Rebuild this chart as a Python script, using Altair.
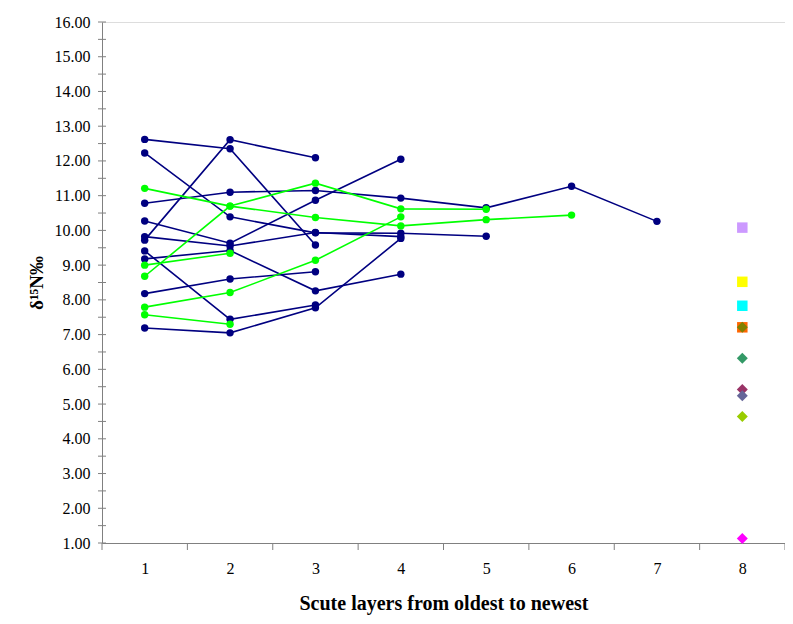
import altair as alt
import pandas as pd

# Scute layer positions
layers = [1, 2, 3, 4, 5, 6, 7, 8]

# Navy series (delta 15N by scute layer, oldest to newest)
navy_a = [12.62, 12.35, 9.58]
navy_b = [9.72, 12.61, 12.09]
navy_c = [10.78, 11.10, 11.15, 10.93, 10.65, 11.27, 10.26]
navy_d = [12.23, 10.39, 9.93, 9.92, 9.83]
navy_e = [10.27, 9.63, 10.87, 12.05]
navy_f = [9.82, 9.55, 9.94, 9.82]
navy_g = [9.18, 9.42, 8.26, 8.74]
navy_h = [8.18, 8.60, 8.81]
navy_i = [9.41, 7.44, 7.85]
navy_j = [7.19, 7.05, 7.77, 9.77]

# Green series
green_a = [11.21, 10.70, 10.37, 10.13, 10.31, 10.44]
green_b = [8.68, 10.70, 11.36, 10.62, 10.61]
green_c = [7.79, 8.21, 9.14, 10.39]
green_d = [9.00, 9.34]
green_e = [7.57, 7.30]

# Single markers at layer 8
square_values = [10.08, 8.52, 7.83, 7.21]
square_colors = ["#CC99FF", "#FFFF00", "#00FFFF", "#FF6600"]
diamond_values = [7.21, 6.32, 5.42, 5.24, 4.64, 1.13]
diamond_colors = ["#808000", "#339966", "#993366", "#666699", "#99CC00", "#FF00FF"]

# Axis ticks
y_tick_values = [v / 2 for v in range(2, 33)]
x_tick_values = [v + 0.5 for v in range(0, 9)]

navy_list = [navy_a, navy_b, navy_c, navy_d, navy_e, navy_f, navy_g, navy_h, navy_i, navy_j]
green_list = [green_a, green_b, green_c, green_d, green_e]


def to_df(series_list, prefix):
    rows = []
    for k, s in enumerate(series_list):
        for i, v in enumerate(s):
            rows.append({"x": layers[i], "y": v, "s": f"{prefix}{k}"})
    return pd.DataFrame(rows)


navy_df = to_df(navy_list, "n")
green_df = to_df(green_list, "g")
sq_df = pd.DataFrame({"x": [8] * len(square_values), "y": square_values, "c": square_colors})
dm_df = pd.DataFrame({"x": [8] * len(diamond_values), "y": diamond_values, "c": diamond_colors})
yt_df = pd.DataFrame({"y": y_tick_values})
xt_df = pd.DataFrame({"x": x_tick_values})

W, H = 683, 521
AX = "#808080"
FONT = "Liberation Serif"

xs = alt.Scale(domain=[0.5, 8.5], nice=False, zero=False)
ys = alt.Scale(domain=[1, 16], nice=False, zero=False)

label_style = dict(labelFont=FONT, labelFontSize=16, labelColor="black")

xaxis = alt.Axis(values=layers, format="d", ticks=False, tickSize=0, grid=False,
                 labelPadding=17, labelFlush=False, domainColor=AX, domainWidth=1,
                 title="Scute layers from oldest to newest", titleFont=FONT,
                 titleFontSize=20, titleFontWeight="bold", titleColor="black",
                 titlePadding=17, **label_style)
yaxis = alt.Axis(values=list(range(1, 17)), format=".2f", ticks=False, tickSize=0,
                 grid=False, labelPadding=12, domainColor=AX, domainWidth=1,
                 labelOverlap=False,
                 title="δ¹⁵N‰", titleFont=FONT, titleFontSize=19,
                 titleFontWeight="bold", titleColor="black", titlePadding=8,
                 **label_style)

X = alt.X("x:Q", scale=xs, axis=xaxis)
Y = alt.Y("y:Q", scale=ys, axis=yaxis)

navy_lines = alt.Chart(navy_df).mark_line(color="#000080", strokeWidth=1.6).encode(
    x=X, y=Y, detail="s:N")
navy_pts = alt.Chart(navy_df).mark_point(filled=True, shape="circle", size=55,
                                         color="#000080", opacity=1).encode(x=X, y=Y)
green_lines = alt.Chart(green_df).mark_line(color="#00FF00", strokeWidth=1.6).encode(
    x=X, y=Y, detail="s:N")
green_pts = alt.Chart(green_df).mark_point(filled=True, shape="circle", size=55,
                                           color="#00FF00", opacity=1).encode(x=X, y=Y)
squares = alt.Chart(sq_df).mark_point(filled=True, shape="square", size=110, opacity=1).encode(
    x=X, y=Y, color=alt.Color("c:N", scale=None))
diamonds = alt.Chart(dm_df).mark_point(filled=True, shape="diamond", size=120, opacity=1).encode(
    x=X, y=Y, color=alt.Color("c:N", scale=None))

y_ticks = alt.Chart(yt_df).mark_rule(color=AX, strokeWidth=1).encode(
    y=Y, x=alt.value(-4), x2=alt.value(4))
x_ticks = alt.Chart(xt_df).mark_rule(color=AX, strokeWidth=1).encode(
    x=X, y=alt.value(H), y2=alt.value(H + 7))

chart = alt.layer(
    y_ticks, x_ticks, navy_lines, navy_pts, green_lines, green_pts, squares, diamonds
).properties(
    width=W, height=H,
    autosize=alt.AutoSizeParams(type="none"),
    padding={"left": 94, "top": 14, "right": 0, "bottom": 72},
    background="white",
).configure_view(stroke=None).configure_axis(
    labelFont=FONT, titleFont=FONT
).configure(
    font=FONT,
    style={"guide-label": {"font": FONT, "fontSize": 16, "fill": "black"},
           "guide-title": {"font": FONT}},
)

chart.save("out.html", embed_options={"renderer": "svg", "actions": False})
